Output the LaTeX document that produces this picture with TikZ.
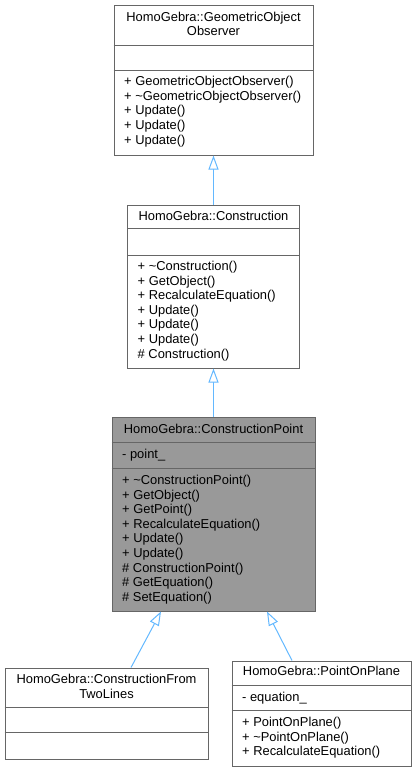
\documentclass[tikz,border=0pt]{standalone}
\usepackage{fontspec}
\setmainfont{Liberation Sans}
\usepackage{tikz}
\usetikzlibrary{positioning}
\usetikzlibrary{arrows.meta}

\definecolor{boxline}{HTML}{666666}
\definecolor{boxfill}{HTML}{999999}
\definecolor{inheritline}{HTML}{63B8FF}

\tikzset{
	classbox/.style={draw=boxline, line width=1pt, fill=white, inner sep=0pt},
	divider/.style={draw=boxline, line width=1pt},
	txt/.style={inner sep=0pt, font=\fontsize{12.9}{14.6}\selectfont},
	title/.style={txt, align=center, anchor=north},
	members/.style={txt, align=left, anchor=north west},
	inherit/.style={draw=inheritline, line width=1pt,
		-{Triangle[open, length=14pt, width=10pt, fill=white]}}
}

\begin{document}
\begin{tikzpicture}[x=1pt, y=-1pt]
	\useasboundingbox (0,0) rectangle (416,772);

	% GeometricObjectObserver
	\node[classbox, minimum width=199pt, minimum height=150pt] (obs) at (213.5,80) {};
	\draw[divider] ([yshift=-41pt]obs.north west) -- ([yshift=-41pt]obs.north east);
	\draw[divider] ([yshift=-66pt]obs.north west) -- ([yshift=-66pt]obs.north east);
	\node[title] (obst) [below = 7pt of obs.north] {HomoGebra::GeometricObject\\Observer};
	\node[members] (obsm) [below right = 71.7pt and 10.5pt of obs.north west]
		{+ GeometricObjectObserver()\\+ \textasciitilde GeometricObjectObserver()\\+ Update()\\+ Update()\\+ Update()};

	% Construction
	\node[classbox, minimum width=172pt, minimum height=163pt] (cons) at (213.5,286.5) {};
	\draw[divider] ([yshift=-24pt]cons.north west) -- ([yshift=-24pt]cons.north east);
	\draw[divider] ([yshift=-51pt]cons.north west) -- ([yshift=-51pt]cons.north east);
	\node[title] (const) [below = 6.4pt of cons.north] {HomoGebra::Construction};
	\node[members] (consm) [below right = 56.4pt and 10.5pt of cons.north west]
		{+ \textasciitilde Construction()\\+ GetObject()\\+ RecalculateEquation()\\+ Update()\\+ Update()\\+ Update()\\\# Construction()};

	% ConstructionPoint
	\node[classbox, fill=boxfill, minimum width=203pt, minimum height=194pt] (cpt) at (213.5,514) {};
	\draw[divider] ([yshift=-26pt]cpt.north west) -- ([yshift=-26pt]cpt.north east);
	\draw[divider] ([yshift=-52pt]cpt.north west) -- ([yshift=-52pt]cpt.north east);
	\node[title] (cptt) [below = 7.7pt of cpt.north] {HomoGebra::ConstructionPoint};
	\node[members] (cpta) [below right = 32pt and 10.5pt of cpt.north west] {- point\_};
	\node[members] (cptm) [below right = 58.4pt and 10.5pt of cpt.north west]
		{+ \textasciitilde ConstructionPoint()\\+ GetObject()\\+ GetPoint()\\+ RecalculateEquation()\\+ Update()\\+ Update()\\\# ConstructionPoint()\\\# GetEquation()\\\# SetEquation()};

	% ConstructionFromTwoLines
	\node[classbox, minimum width=203pt, minimum height=91pt] (twol) at (106.5,713.5) {};
	\draw[divider] ([yshift=-40pt]twol.north west) -- ([yshift=-40pt]twol.north east);
	\draw[divider] ([yshift=-65pt]twol.north west) -- ([yshift=-65pt]twol.north east);
	\node[title] (twolt) [below = 6.7pt of twol.north] {HomoGebra::ConstructionFrom\\TwoLines};

	% PointOnPlane
	\node[classbox, minimum width=179pt, minimum height=105pt] (pop) at (321.5,713.5) {};
	\draw[divider] ([yshift=-25pt]pop.north west) -- ([yshift=-25pt]pop.north east);
	\draw[divider] ([yshift=-50pt]pop.north west) -- ([yshift=-50pt]pop.north east);
	\node[title] (popt) [below = 5.4pt of pop.north] {HomoGebra::PointOnPlane};
	\node[members] (popa) [below right = 31.4pt and 10.5pt of pop.north west] {- equation\_};
	\node[members] (popm) [below right = 56.4pt and 10.5pt of pop.north west]
		{+ PointOnPlane()\\+ \textasciitilde PointOnPlane()\\+ RecalculateEquation()};

	% inheritance
	\draw[inherit] (cons) -- (obs);
	\draw[inherit] (cpt) -- (cons);
	\draw[inherit] ([xshift=24.5pt]twol.north) -- ([xshift=-52.5pt]cpt.south);
	\draw[inherit] ([xshift=-29.5pt]pop.north) -- ([xshift=53.5pt]cpt.south);
\end{tikzpicture}
\end{document}
